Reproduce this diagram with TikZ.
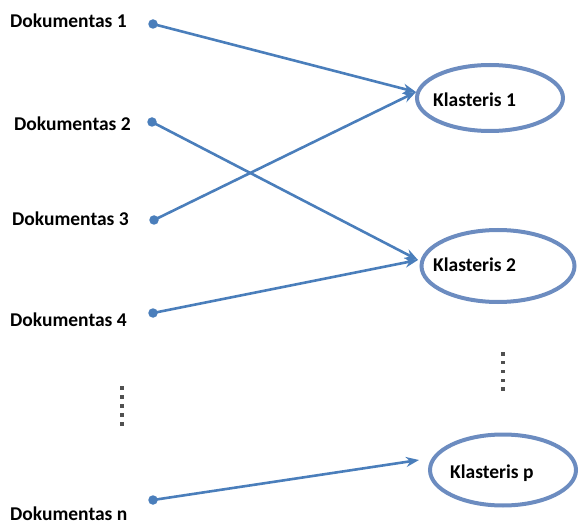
\documentclass[tikz,border=0pt]{standalone}
\usepackage{fontspec}
\setmainfont{Carlito}
\usetikzlibrary{arrows.meta,shapes.geometric}
\definecolor{lineblue}{RGB}{74,126,187}
\definecolor{ellblue}{RGB}{108,140,192}
\definecolor{dotgray}{RGB}{80,80,80}
\begin{document}
\begin{tikzpicture}[x=1pt,y=-1pt,
  lbl/.style={font=\fontsize{19.5}{20}\selectfont\bfseries, inner sep=0pt, text height=0.64em, text depth=0pt, anchor=west, text=black},
  enddot/.style={circle, fill=lineblue, inner sep=0pt, minimum size=9.5pt},
  cluster/.style={ellipse, draw=ellblue, line width=4pt, inner sep=0pt, font=\fontsize{19.5}{20}\selectfont\bfseries},
  conn/.style={draw=lineblue, line width=2.6pt, -{Stealth[length=13pt,width=10pt]}},
  vdot/.style={fill=dotgray, inner sep=0pt, minimum size=3.2pt, rectangle}
]
\useasboundingbox (0,0) rectangle (579,524);
% document labels
\node[lbl] (l1) at (10,24) {Dokumentas 1};
\node[lbl] (l2) at (14,127) {Dokumentas 2};
\node[lbl] (l3) at (12,222) {Dokumentas 3};
\node[lbl] (l4) at (10,323) {Dokumentas 4};
\node[lbl] (ln) at (10,517) {Dokumentas n};
% dots
\node[enddot] (d1) at (153,24) {};
\node[enddot] (d2) at (152,122) {};
\node[enddot] (d3) at (154,220) {};
\node[enddot] (d4) at (153,313) {};
\node[enddot] (dn) at (153,500) {};
% clusters
\node[cluster, minimum width=146pt, minimum height=66pt] (k1) at (490,98) {};
\node[lbl] (k1t) at (433,103) {Klasteris 1};
\node[cluster, minimum width=153pt, minimum height=72pt] (k2) at (498,266) {};
\node[lbl] (k2t) at (433,268) {Klasteris 2};
\node[cluster, minimum width=146pt, minimum height=71pt] (kp) at (503,470) {};
\node[lbl] (kpt) at (450,475) {Klasteris p};
% arrow targets
\coordinate (t1) at (416,92);
\coordinate (t2) at (418,260);
\coordinate (tp) at (419,460);
% connectors
\draw[conn] (d1.center) -- (t1);
\draw[conn] (d3.center) -- (t1);
\draw[conn] (d2.center) -- (t2);
\draw[conn] (d4.center) -- (t2);
\draw[conn] (dn.center) -- (tp);
% vertical ellipsis dots
\foreach \i in {0,...,4} {
  \node[vdot] (lv\i) at (122,388+9*\i) {};
  \node[vdot] (rv\i) at (503,354+8.75*\i) {};
}
\end{tikzpicture}
\end{document}
